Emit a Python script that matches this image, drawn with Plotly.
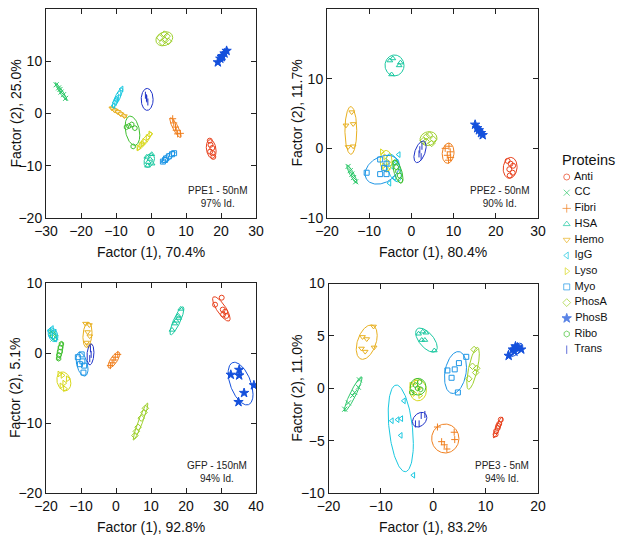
import numpy as np
import plotly.graph_objects as go

PROTEINS = ["Anti", "CC", "Fibri", "HSA", "Hemo", "IgG", "Lyso", "Myo", "PhosA", "PhosB", "Ribo", "Trans"]
COLORS = ["#e8401c", "#2dc86a", "#f07f1e", "#19c8a0", "#e8b020", "#19c8e0",
          "#d8d81c", "#1e96e6", "#9ed02c", "#1450dc", "#40c030", "#1e32c8"]
SYMBOLS = ["circle-open", "x-thin-open", "cross-thin-open", "triangle-up-open", "triangle-down-open",
           "triangle-left-open", "triangle-right-open", "square-open", "diamond-open", "star",
           "hexagon-open", "line-ns-open"]

PANEL_LABELS = ["PPE1 - 50nM", "PPE2 - 50nM", "GFP - 150nM", "PPE3 - 5nM"]
PANEL_IDENT = ["97% Id.", "90% Id.", "94% Id.", "94% Id."]
X_TITLES = ["Factor (1), 70.4%", "Factor (1), 80.4%", "Factor (1), 92.8%", "Factor (1), 83.2%"]
Y_TITLES = ["Factor (2), 25.0%", "Factor (2), 11.7%", "Factor (2), 5.1%", "Factor (2), 11.0%"]
X_RANGES = [(-30, 30), (-20, 30), (-20, 40), (-20, 20)]
Y_RANGES = [(-20, 20), (-10, 20), (-20, 10), (-10, 10)]
X_DTICK = [10, 10, 10, 10]
Y_DTICK = [10, 10, 10, 5]

# ---- PPE1 - 50nM ----
PPE1_X = [
    [16.8, 17.0, 17.5, 16.9, 17.6, 17.8],
    [-27.1, -26.4, -25.7, -25.0, -24.4, -26.0],
    [6.2, 6.5, 7.0, 7.2, 7.6, 8.4],
    [-1.2, 0.2, -0.8, 0.3, -1.0, -0.3],
    [-11.2, -10.4, -9.5, -8.7, -7.6],
    [-8.4, -9.0, -9.6, -10.3, -10.7, -9.9],
    [-3.6, -2.8, -1.9, -1.0, -0.2, -2.4],
    [3.4, 4.3, 5.1, 6.0, 6.6, 4.0],
    [2.5, 3.8, 4.6, 3.2, 5.0, 4.0],
    [19.1, 19.8, 20.4, 21.0, 21.6, 20.2],
    [-7.0, -6.3, -5.5, -4.6, -5.1],
    [-1.6, -1.2, -0.9, -1.3],
]
PPE1_Y = [
    [-5.2, -6.0, -6.6, -7.3, -7.6, -8.3],
    [5.5, 4.9, 4.1, 3.6, 2.9, 4.6],
    [-1.0, -1.8, -2.6, -3.2, -3.9, -3.8],
    [-8.3, -7.8, -9.3, -9.6, -10.0, -8.7],
    [1.0, 0.6, 0.3, -0.1, -0.5],
    [4.7, 3.9, 3.0, 2.1, 1.5, 2.6],
    [-6.6, -6.0, -5.3, -4.6, -3.9, -5.8],
    [-9.2, -8.6, -8.2, -7.8, -7.6, -8.9],
    [14.5, 15.2, 14.8, 13.6, 13.8, 14.0],
    [9.8, 10.5, 11.0, 11.5, 12.0, 10.8],
    [-2.6, -2.4, -2.1, -2.8, -6.3],
    [3.5, 2.8, 2.2, 3.0],
]
# ellipse: centre x, centre y, half-width x, half-height y, correlation
PPE1_ELL = [
    (17.2, -6.8, 1.4, 1.8, -0.2),
    (-25.7, 4.2, 1.7, 1.7, -0.95),
    (7.0, -2.7, 1.6, 1.9, -0.85),
    (-0.5, -9.0, 1.5, 1.3, 0.3),
    (-9.3, 0.25, 2.4, 1.05, -0.9),
    (-9.6, 3.0, 1.5, 1.9, 0.85),
    (-1.85, -5.3, 2.1, 1.7, 0.9),
    (4.9, -8.35, 2.0, 1.15, 0.8),
    (3.8, 14.3, 2.4, 1.35, 0.2),
    (20.4, 11.0, 1.6, 1.5, 0.92),
    (-5.3, -3.3, 2.1, 2.8, -0.3),
    (-1.1, 2.7, 1.7, 2.1, 0.0),
]

# ---- PPE2 - 50nM ----
PPE2_X = [
    [22.8, 23.5, 24.1, 23.2, 24.0, 23.3],
    [-15.0, -14.5, -14.1, -13.7, -13.2],
    [8.0, 8.9, 9.2, 8.5, 9.3, 8.8],
    [-5.1, -4.4, -2.9, -2.6, -4.7],
    [-14.15, -15.5, -13.8, -15.0, -13.8],
    [-3.0, -4.6, -5.2, -4.0, -3.5],
    [-7.0, -6.2, -5.5, -6.5, -5.6],
    [-10.6, -7.4, -5.9, -7.4, -5.9, -6.5],
    [2.8, 3.6, 4.3, 5.2, 4.8, 3.5],
    [15.1, 15.6, 16.0, 16.5, 16.9],
    [-3.9, -3.6, -3.2, -2.8, -2.6],
    [2.5, 2.0, 1.8, 2.3],
]
PPE2_Y = [
    [-1.8, -2.2, -2.5, -3.0, -3.5, -3.9],
    [-2.6, -3.2, -3.7, -4.2, -4.8],
    [0.0, 0.3, -0.5, -1.0, -1.3, -1.7],
    [12.6, 12.9, 11.9, 12.3, 10.6],
    [5.2, 3.3, 3.5, 0.2, 0.3],
    [-0.9, -2.6, -5.0, -4.2, -2.0],
    [-0.5, -1.2, -2.0, -2.5, -3.0],
    [-3.5, -1.6, -2.2, -3.7, -3.7, -2.8],
    [1.1, 1.7, 1.9, 1.3, 0.7, 1.0],
    [3.4, 2.9, 2.6, 2.2, 1.9],
    [-2.0, -2.7, -3.3, -3.9, -4.6],
    [0.3, -0.2, -0.8, -1.2],
]
PPE2_ELL = [
    (23.4, -2.8, 1.65, 1.5, 0.1),
    (-14.1, -3.7, 1.2, 1.3, -0.9),
    (8.7, -0.7, 1.4, 1.45, 0.1),
    (-4.0, 11.9, 2.25, 1.5, 0.0),
    (-14.35, 2.57, 1.4, 3.43, 0.0),
    (-4.2, -2.8, 1.8, 2.0, -0.5),
    (-6.0, -1.8, 1.4, 1.5, 0.0),
    (-6.9, -3.07, 4.07, 2.07, 0.3),
    (4.05, 1.4, 2.0, 1.0, 0.1),
    (16.1, 2.6, 1.3, 1.0, -0.9),
    (-3.2, -3.35, 1.2, 1.65, -0.6),
    (2.05, -0.5, 1.45, 1.55, 0.5),
]

# ---- GFP - 150nM ----
GFP_X = [
    [30.2, 28.3, 30.5, 31.2, 30.6, 31.5],
    [-18.5, -17.9, -17.2, -18.0],
    [0.5, -0.2, -0.6, -1.1, -1.6],
    [18.5, 17.8, 17.2, 16.8, 16.0, 17.9],
    [-8.7, -7.6, -8.1, -7.5, -8.4, -7.8],
    [-19.0, -18.3, -17.5, -18.5, -17.3],
    [-16.2, -15.3, -13.8, -14.8, -15.6, -14.6],
    [-10.9, -9.8, -9.6, -9.1, -9.3, -10.3],
    [8.4, 8.0, 7.2, 6.3, 5.4, 5.8],
    [32.8, 35.2, 35.2, 39.4, 36.6, 35.0],
    [-15.6, -15.9, -16.0, -16.3, -16.4],
    [-7.3, -7.1, -7.5],
]
GFP_Y = [
    [7.9, 6.9, 6.2, 5.9, 5.5, 5.3],
    [3.0, 2.8, 2.2, 2.0],
    [-0.2, -0.6, -1.0, -1.4, -1.8],
    [6.3, 5.3, 4.6, 4.2, 3.3, 5.0],
    [4.2, 4.0, 3.0, 2.4, 1.5, 1.1],
    [3.2, 3.5, 3.0, 2.4, 2.0],
    [-3.0, -3.2, -3.7, -4.3, -4.7, -5.1],
    [-0.6, -0.2, -1.2, -1.8, -2.8, -1.6],
    [-7.9, -8.5, -9.3, -10.6, -11.8, -11.2],
    [-3.1, -2.4, -3.2, -4.6, -5.7, -7.0],
    [1.3, 0.8, 0.2, -0.3, -0.8],
    [0.6, -0.2, -0.8],
]
GFP_ELL = [
    (30.1, 6.3, 2.5, 1.75, -0.8),
    (-17.9, 2.5, 1.0, 0.8, -0.5),
    (-0.6, -1.0, 1.7, 1.15, 0.75),
    (17.4, 4.6, 2.0, 2.0, 0.85),
    (-8.15, 2.6, 1.3, 1.8, 0.2),
    (-18.0, 2.6, 1.4, 1.0, -0.3),
    (-14.9, -4.05, 2.0, 1.35, -0.2),
    (-9.7, -1.6, 1.7, 1.7, -0.4),
    (7.0, -9.8, 2.1, 2.65, 0.95),
    (35.6, -4.37, 3.55, 3.05, -0.5),
    (-16.0, 0.3, 0.9, 1.3, 0.6),
    (-7.3, -0.2, 1.0, 1.5, 0.2),
]

# ---- PPE3 - 5nM ----
PPE3_X = [
    [12.9, 12.6, 12.3, 12.0, 11.9, 12.4],
    [-14.1, -14.3, -15.0, -15.4, -16.2, -16.9],
    [0.8, 4.0, 4.1, 1.6, 2.1, 2.6],
    [-2.8, -2.0, -1.4, -2.2, -1.6, 0.2],
    [-13.5, -12.7, -13.7, -13.0, -11.3, -11.4],
    [-5.6, -7.9, -6.8, -6.1, -6.2, -3.8],
    [-4.2, -3.3, -2.7, -3.6, -2.5],
    [2.7, 3.5, 4.1, 4.9, 6.3, 4.7],
    [7.8, 7.5, 8.3, 8.1, 6.8],
    [14.4, 15.2, 15.7, 16.1, 16.8, 15.5],
    [-4.1, -3.4, -2.6, -2.4, -3.0],
    [-3.4, -2.7, -2.3, -1.6],
]
PPE3_Y = [
    [-3.0, -3.4, -3.8, -4.1, -4.4, -3.6],
    [0.8, 0.1, -0.4, -0.7, -1.4, -2.0],
    [-3.7, -4.2, -4.9, -5.1, -5.4, -5.8],
    [5.2, 5.4, 5.3, 4.6, 4.6, 3.6],
    [4.9, 4.7, 3.8, 3.5, 3.9, 5.9],
    [-1.2, -3.1, -3.0, -2.9, -4.5, -8.3],
    [0.3, 0.6, 0.0, -0.5, -0.7],
    [1.7, 1.0, 1.8, 2.4, 3.0, -0.4],
    [3.7, 2.1, 1.9, 1.5, 0.9],
    [3.1, 3.7, 4.0, 3.9, 3.7, 3.5],
    [-0.4, 0.3, 0.6, -0.1, 0.0],
    [-3.4, -3.4, -2.6, -2.5],
]
PPE3_ELL = [
    (12.35, -3.75, 0.9, 1.0, 0.9),
    (-15.3, -0.55, 1.7, 1.65, 0.93),
    (2.3, -4.8, 2.6, 1.38, 0.0),
    (-1.3, 4.6, 2.06, 1.15, -0.6),
    (-12.7, 4.4, 2.0, 1.64, 0.4),
    (-6.2, -3.83, 2.4, 4.14, -0.35),
    (-2.9, -0.2, 1.6, 1.0, 0.0),
    (4.25, 1.5, 2.1, 2.0, 0.25),
    (7.6, 1.9, 1.2, 2.0, 0.7),
    (15.6, 3.65, 1.5, 0.65, 0.6),
    (-2.9, 0.15, 1.5, 0.8, 0.0),
    (-2.6, -3.0, 1.37, 0.7, 0.3),
]

PANELS = [(PPE1_X, PPE1_Y, PPE1_ELL), (PPE2_X, PPE2_Y, PPE2_ELL),
          (GFP_X, GFP_Y, GFP_ELL), (PPE3_X, PPE3_Y, PPE3_ELL)]

# the page places the figure 8px in from the window's edges (body margin);
# keep the figure small enough that the page never scrolls
OFF = 8
W, H = 624 - 2 * OFF, 543 - 2 * OFF
FONT = "Liberation Sans, Arial, sans-serif"
# plot areas in window pixels: left, right, top, bottom
BOXES = [(46, 256, 9, 218), (327, 538, 9, 218), (46, 256, 283, 493), (328.5, 538, 283.5, 493)]


def px2x(p):
    return (p - OFF) / W


def py2y(p):
    return 1 - (p - OFF) / H


fig = go.Figure()
t = np.linspace(0, 2 * np.pi, 120)
for k, (xs, ys, ells) in enumerate(PANELS):
    xa = "x" if k == 0 else f"x{k + 1}"
    ya = "y" if k == 0 else f"y{k + 1}"
    for i, name in enumerate(PROTEINS):
        cx, cy, sx, sy, rho = ells[i]
        ex = cx + sx * np.cos(t)
        ey = cy + sy * (rho * np.cos(t) + np.sqrt(1 - rho ** 2) * np.sin(t))
        fig.add_trace(go.Scatter(x=ex, y=ey, mode="lines", xaxis=xa, yaxis=ya,
                                 line=dict(color=COLORS[i], width=1), showlegend=False,
                                 hoverinfo="skip"))
        fig.add_trace(go.Scatter(x=xs[i], y=ys[i], mode="markers", xaxis=xa, yaxis=ya, name=name,
                                 marker=dict(symbol=SYMBOLS[i], color=COLORS[i], size=5 if i != 9 else 7,
                                             line=dict(color=COLORS[i], width=1)),
                                 showlegend=False))

# legend built on its own small axis
fig.add_trace(go.Scatter(x=[0.12] * len(PROTEINS), y=list(range(len(PROTEINS))), mode="markers+text",
                         xaxis="x5", yaxis="y5", text=[" " + p for p in PROTEINS], textposition="middle right",
                         textfont=dict(family=FONT, size=11, color="#111"),
                         marker=dict(symbol=SYMBOLS, color=COLORS, size=[6] * 9 + [7] + [6] * 2,
                                     line=dict(color=COLORS, width=1)),
                         showlegend=False, hoverinfo="skip"))

layout = dict(width=W, height=H, margin=dict(l=0, r=0, t=0, b=0), plot_bgcolor="white",
              paper_bgcolor="white", font=dict(family=FONT, size=14, color="#111"), showlegend=False)
annotations = []
for k in range(4):
    l, r, tp, bt = BOXES[k]
    sfx = "" if k == 0 else str(k + 1)
    common = dict(showline=True, linecolor="#222", linewidth=1, mirror="ticks", ticks="inside",
                  ticklen=5, tickcolor="#222", showgrid=False, zeroline=False, automargin=False,
                  tickfont=dict(family=FONT, size=14, color="#111"))
    layout["xaxis" + sfx] = dict(common, domain=[px2x(l), px2x(r)], range=list(X_RANGES[k]),
                                 dtick=X_DTICK[k], tick0=0, anchor="y" + sfx)
    layout["yaxis" + sfx] = dict(common, domain=[py2y(bt), py2y(tp)], range=list(Y_RANGES[k]),
                                 dtick=Y_DTICK[k], tick0=0, anchor="x" + sfx)
    annotations.append(dict(text=X_TITLES[k], x=px2x((l + r) / 2), y=py2y(bt + 34), xref="paper",
                            yref="paper", showarrow=False, font=dict(family=FONT, size=14, color="#111"),
                            xanchor="center", yanchor="middle"))
    annotations.append(dict(text=Y_TITLES[k], x=px2x(l - 31), y=py2y((tp + bt) / 2), xref="paper",
                            yref="paper", showarrow=False, textangle=-90,
                            font=dict(family=FONT, size=14, color="#111"), xanchor="center", yanchor="middle"))
    annotations.append(dict(text=PANEL_LABELS[k] + "<br>" + PANEL_IDENT[k], x=px2x(r - 7), y=py2y(bt - 7),
                            xref="paper", yref="paper", showarrow=False, align="center",
                            font=dict(family=FONT, size=10, color="#222"), xanchor="right", yanchor="bottom"))

annotations.append(dict(text="Proteins", x=px2x(588), y=py2y(160), xref="paper", yref="paper",
                        showarrow=False, font=dict(family=FONT, size=14.5, color="#111"),
                        xanchor="center", yanchor="middle"))
layout["annotations"] = annotations
layout["xaxis5"] = dict(domain=[px2x(560), px2x(616)], range=[0, 1], visible=False, anchor="y5")
layout["yaxis5"] = dict(domain=[py2y(177 + 11.5 * 15.7), py2y(177 - 0.5 * 15.7)],
                        range=[len(PROTEINS) - 0.5, -0.5], visible=False, anchor="x5")
fig.update_layout(**layout)
fig.write_html("out.html")
